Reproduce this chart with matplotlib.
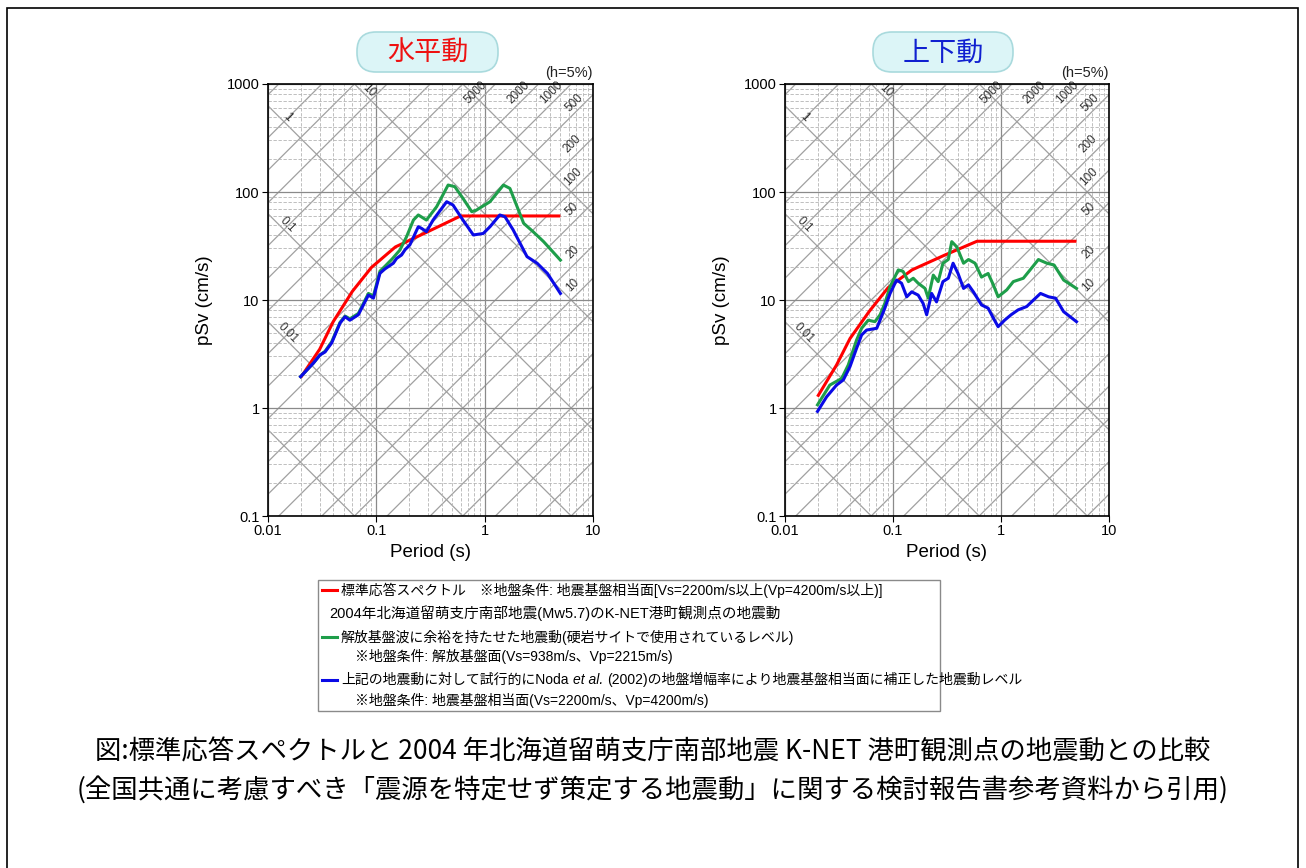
import numpy as np
import matplotlib
matplotlib.use("Agg")
import matplotlib.pyplot as plt
from matplotlib.patches import FancyBboxPatch, Rectangle
from matplotlib.transforms import IdentityTransform
from matplotlib.lines import Line2D
from matplotlib.text import Annotation
from matplotlib.ticker import LogLocator, NullFormatter, FixedLocator, FixedFormatter

plt.rcParams["font.family"] = ["Liberation Sans", "Noto Sans CJK JP"]

# standard response spectrum (pSv, cm/s)
std_T = [0.02, 0.03, 0.04, 0.06, 0.09, 0.15, 0.30, 0.60, 5.00]
std_h = [1.91, 3.5, 6.3, 12.0, 20.0, 31.0, 43.0, 60.0, 60.0]
std_v = [1.273, 2.5, 4.4, 7.8, 13.0, 19.0, 26.0, 35.0, 35.0]

# horizontal, K-NET Minatomachi
h_green_T = [0.02, 0.0262, 0.0302, 0.0336, 0.0387, 0.0462, 0.0514, 0.057, 0.0682, 0.0845,
             0.094, 0.108, 0.12, 0.14, 0.165, 0.19, 0.22, 0.244, 0.29, 0.36, 0.46, 0.53,
             0.63, 0.76, 0.84, 1.12, 1.49, 1.71, 2.29, 2.8, 3.5, 5.0]
h_green_sv = [1.95, 2.6, 3.1, 3.35, 4.1, 6.2, 7.1, 6.7, 7.5, 11.5,
              10.9, 18.5, 20.5, 24.0, 29.0, 38.5, 55.0, 61.3, 55.0, 73.0, 116.0, 112.0,
              87.5, 65.7, 68.0, 81.3, 116.0, 108.0, 51.3, 42.9, 34.7, 23.4]
h_blue_T = [0.02, 0.0262, 0.0302, 0.0336, 0.0387, 0.0462, 0.0514, 0.057, 0.0682, 0.0845,
            0.094, 0.108, 0.12, 0.1435, 0.154, 0.171, 0.184, 0.204, 0.244, 0.262, 0.29,
            0.334, 0.446, 0.51, 0.63, 0.786, 0.97, 1.12, 1.38, 1.54, 1.83, 2.46, 3.05,
            3.8, 5.0]
h_blue_sv = [1.95, 2.6, 3.1, 3.3, 4.0, 6.1, 7.0, 6.5, 7.3, 11.1,
             10.4, 17.7, 19.4, 21.9, 24.3, 26.1, 29.2, 32.4, 47.7, 46.0, 42.9,
             55.0, 81.3, 75.8, 55.0, 40.0, 41.3, 47.7, 61.3, 59.0, 44.7, 25.2, 21.9,
             17.6, 11.5]

# vertical
v_green_T = [0.02, 0.026, 0.0335, 0.0385, 0.046, 0.0512, 0.059, 0.068, 0.076, 0.084,
             0.094, 0.112, 0.124, 0.139, 0.154, 0.171, 0.198, 0.212, 0.236, 0.262, 0.29,
             0.325, 0.35, 0.39, 0.45, 0.50, 0.575, 0.66, 0.76, 0.85, 0.94, 1.13, 1.30,
             1.61, 1.86, 2.22, 2.66, 3.1, 3.8, 5.0]
v_green_sv = [1.07, 1.63, 1.88, 2.5, 4.26, 5.47, 6.5, 6.3, 7.3, 9.3,
              13.3, 19.0, 18.4, 14.8, 15.9, 14.3, 12.8, 10.4, 17.0, 14.8, 21.9,
              23.7, 34.7, 31.0, 21.9, 23.7, 21.9, 16.3, 17.6, 13.8, 10.7, 12.4, 14.8,
              15.9, 19.0, 23.7, 21.9, 21.1, 15.3, 12.8]
v_blue_T = [0.02, 0.0243, 0.030, 0.0347, 0.040, 0.046, 0.0512, 0.057, 0.0707, 0.084,
            0.094, 0.108, 0.12, 0.134, 0.149, 0.171, 0.19, 0.205, 0.228, 0.253, 0.29,
            0.325, 0.36, 0.40, 0.45, 0.50, 0.555, 0.66, 0.76, 0.85, 0.94, 1.08, 1.24,
            1.44, 1.73, 2.0, 2.32, 2.76, 3.2, 3.8, 5.0]
v_blue_sv = [0.93, 1.27, 1.63, 1.82, 2.42, 3.57, 4.74, 5.27, 5.47, 8.4,
             11.5, 15.3, 14.3, 10.7, 11.9, 11.1, 9.3, 7.3, 11.5, 9.6, 14.8,
             15.9, 21.9, 17.6, 12.8, 13.8, 11.9, 9.0, 8.4, 6.8, 5.66, 6.5, 7.3,
             8.1, 8.7, 10.0, 11.5, 10.7, 10.4, 7.8, 6.3]

# tripartite grid values
disp_lines = [0.001, 0.01, 0.1, 1, 10, 100]          # cm
acc_lines = [m * 10.0 ** e for e in range(-1, 6) for m in (1, 2, 5)]  # cm/s2
disp_labels = [0.01, 0.1, 1, 10]
acc_labels_top = [5000, 2000, 1000, 500]
acc_labels_side = [200, 100, 50, 20, 10]

x_ticks = [0.01, 0.1, 1, 10]
x_ticklabels = ["0.01", "0.1", "1", "10"]
y_ticks = [0.1, 1, 10, 100, 1000]
y_ticklabels = ["0.1", "1", "10", "100", "1000"]

RED = "#ff0000"
GREEN = "#1e9e4a"
BLUE = "#0a0ae6"

W, H = 1306, 868
fig = plt.figure(figsize=(W / 100, H / 100), dpi=100)


def fx(x):
    return x / W


def fy(y):
    return 1 - y / H


def panel(x0, x1, red_sv, g_T, g_sv, b_T, b_sv, title, title_color, box):
    ax = fig.add_axes([fx(x0), fy(516), (x1 - x0) / W, 432 / H])
    ax.set_xscale("log")
    ax.set_yscale("log")
    ax.set_xlim(0.01, 10)
    ax.set_ylim(0.1, 1000)

    T = np.logspace(-2, 1, 50)
    for d in disp_lines:
        ax.plot(T, 2 * np.pi * d / T, color="#a0a0a0", lw=0.9, zorder=1)
    for a in acc_lines:
        ax.plot(T, a * T / (2 * np.pi), color="#a0a0a0", lw=0.9, zorder=1)

    lab = dict(textcoords="offset points", ha="center", va="center",
               fontsize=8.5, color="#333333", zorder=2)
    for d in disp_labels:
        if d < 10:
            t = 0.0138
        else:
            t = 2 * np.pi * d / 800
        ax.annotate(f"{d:g}", xy=(t, 2 * np.pi * d / t), xytext=(3, 3),
                    rotation=-45, **lab)
    for a in acc_labels_top:
        t = min(2 * np.pi * 740 / a, 7.5)
        ax.annotate(f"{a:g}", xy=(t, a * t / (2 * np.pi)), xytext=(-4, 4),
                    rotation=45, **lab)
    for a in acc_labels_side:
        t = 7.5
        ax.annotate(f"{a:g}", xy=(t, a * t / (2 * np.pi)), xytext=(-5, 5),
                    rotation=45, **lab)

    ax.plot(std_T, red_sv, color=RED, lw=2.2, zorder=3, solid_capstyle="butt")
    ax.plot(g_T, g_sv, color=GREEN, lw=2.2, zorder=4)
    ax.plot(b_T, b_sv, color=BLUE, lw=2.2, zorder=5)

    ax.xaxis.set_major_locator(FixedLocator(x_ticks))
    ax.xaxis.set_major_formatter(FixedFormatter(x_ticklabels))
    ax.yaxis.set_major_locator(FixedLocator(y_ticks))
    ax.yaxis.set_major_formatter(FixedFormatter(y_ticklabels))
    for axis in (ax.xaxis, ax.yaxis):
        axis.set_minor_locator(LogLocator(base=10, subs=range(2, 10), numticks=20))
        axis.set_minor_formatter(NullFormatter())
    ax.grid(which="major", color="#8a8a8a", lw=0.9, ls="-", zorder=0)
    ax.grid(which="minor", color="#b4b4b4", lw=0.6, ls=(0, (4, 2)), zorder=0)
    ax.tick_params(which="major", direction="out", length=4, width=0.8,
                   labelsize=10.5, pad=2)
    ax.tick_params(which="minor", length=0)
    for s in ax.spines.values():
        s.set_linewidth(1.2)
        s.set_color("black")

    ax.set_xlabel("Period (s)", fontsize=13.5)
    ax.set_ylabel("pSv (cm/s)", fontsize=13.5)
    ax.xaxis.set_label_coords(0.5, -0.064)
    ax.yaxis.set_label_coords(-0.17, 0.5)
    ax.text(1.0, 1.01, "(h=5%)", transform=ax.transAxes, ha="right", va="bottom",
            fontsize=10.5, color="#222222")

    bx0, by0, bx1, by1 = box
    fig.add_artist(FancyBboxPatch((bx0, H - by1), bx1 - bx0, by1 - by0,
                                  boxstyle="round,pad=0,rounding_size=19",
                                  transform=IdentityTransform(),
                                  fc="#dcf5f7", ec="#a9dadd", lw=1.2))
    fig.text(fx((bx0 + bx1) / 2), fy((by0 + by1) / 2 + 1), title, ha="center",
             va="center", fontsize=19.5, color=title_color, family="Noto Sans CJK JP")
    return ax


panel(268, 593, std_h, h_green_T, h_green_sv, h_blue_T, h_blue_sv,
      "水平動", "#ee1111", (357, 32, 498, 72))
panel(785, 1109, std_v, v_green_T, v_green_sv, v_blue_T, v_blue_sv,
      "上下動", "#1020d0", (873, 32, 1013, 72))

# legend box
fig.add_artist(Rectangle((fx(318), fy(711)), (940 - 318) / W, (711 - 580) / H,
                         transform=fig.transFigure, fc="white", ec="#8a8a8a", lw=1.0))
fs = 10
for y, c in [(590, RED), (637, GREEN), (680, BLUE)]:
    fig.add_artist(Line2D([fx(322), fx(337)], [fy(y), fy(y)], color=c, lw=2.2,
                          transform=fig.transFigure))
fig.text(fx(341), fy(590), "標準応答スペクトル　※地盤条件: 地震基盤相当面[Vs=2200m/s以上(Vp=4200m/s以上)]",
         va="center", fontsize=fs)
fig.text(fx(329), fy(613), "2004年北海道留萌支庁南部地震(Mw5.7)のK-NET港町観測点の地震動",
         va="center", fontsize=10.5)
fig.text(fx(341), fy(637), "解放基盤波に余裕を持たせた地震動(硬岩サイトで使用されているレベル)",
         va="center", fontsize=fs)
fig.text(fx(355), fy(656), "※地盤条件: 解放基盤面(Vs=938m/s、Vp=2215m/s)",
         va="center", fontsize=fs)
t1 = fig.text(fx(341), fy(680), "上記の地震動に対して試行的にNoda", va="center", fontsize=fs)
a2 = fig.add_artist(Annotation("et al.", xy=(1, 0), xycoords=t1, xytext=(3, 0),
                               textcoords="offset points", va="bottom", ha="left",
                               fontsize=fs, style="italic"))
a3 = fig.add_artist(Annotation("(2002)の地盤増幅率により地震基盤相当面に補正した地震動レベル",
                               xy=(1, 0), xycoords=a2, xytext=(3, 0),
                               textcoords="offset points", va="bottom", ha="left",
                               fontsize=fs))
fig.text(fx(355), fy(700), "※地盤条件: 地震基盤相当面(Vs=2200m/s、Vp=4200m/s)",
         va="center", fontsize=fs)

# caption
cap = ["Noto Sans CJK JP", "Liberation Sans"]
fig.text(0.5, fy(752), "図:標準応答スペクトルと 2004 年北海道留萌支庁南部地震 K-NET 港町観測点の地震動との比較",
         ha="center", va="center", fontsize=19, family=cap)
fig.text(0.5, fy(790), "(全国共通に考慮すべき「震源を特定せず策定する地震動」に関する検討報告書参考資料から引用)",
         ha="center", va="center", fontsize=19, family=cap)

# outer frame
fig.add_artist(Rectangle((fx(7), -0.05), (1298 - 7) / W, fy(8) + 0.05,
                         transform=fig.transFigure, fc="none", ec="black", lw=1.2))

fig.savefig("out.png", dpi=100, facecolor="white")
